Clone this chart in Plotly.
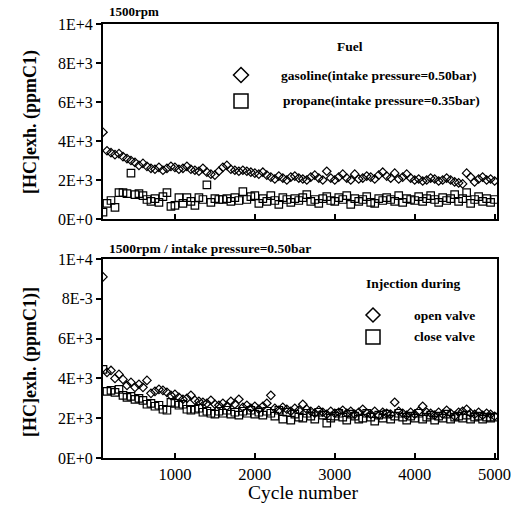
import plotly.graph_objects as go
from plotly.subplots import make_subplots

# ---------------- data ----------------
cycles = list(range(100, 5001, 50))

gasoline = [4450, 3500, 3400, 3300, 3350, 3200, 3100, 3000, 2900, 2750,
            2850, 2700, 2600, 2550, 2650, 2500, 2600, 2700, 2650, 2550,
            2600, 2700, 2550, 2500, 2450, 2600, 2400, 2300, 2250, 2450,
            2650, 2750, 2550, 2500, 2450, 2500, 2450, 2400, 2350, 2300,
            2400, 2250, 2150, 2050, 2200, 2100, 2000, 2150, 2200, 2100,
            2050, 2000, 2150, 2250, 2100, 2000, 2450, 2100, 2000, 2150,
            2300, 2100, 2000, 2300, 2050, 2100, 2200, 2150, 2050, 2250,
            2400, 2200, 2100, 2350, 2050, 2150, 2300, 2100, 2000, 2050,
            1950, 2000, 2100, 2050, 1950, 2000, 2100, 2000, 1900, 1850,
            1800, 2350, 2150, 1900, 2050, 2150, 2000, 2050, 1950]

propane = [350, 800, 950, 600, 1350, 1350, 1300, 2350, 1250, 1300,
           1200, 1000, 900, 1050, 850, 1150, 1350, 650, 700, 1100,
           800, 1100, 900, 700, 1100, 1000, 1750, 850, 1050, 1000,
           1000, 1050, 900, 1100, 950, 1400, 1000, 1150, 1200, 800,
           1050, 900, 1200, 950, 750, 1100, 1000, 850, 1050, 950,
           1100, 1250, 900, 1000, 800, 1050, 1150, 950, 900, 1100,
           1000, 1200, 750, 1050, 900, 1000, 1150, 850, 800, 1050,
           950, 1100, 1000, 900, 1200, 850, 1050, 1000, 950, 1150,
           900, 1050, 1200, 1000, 850, 1100, 950, 1050, 1250, 900,
           1050, 1350, 800, 1000, 1150, 900, 1050, 850, 1000]

open_valve = [9100, 4300, 4400, 4000, 4200, 3950, 3650, 3800, 3550, 3700,
              3550, 3900, 3250, 3350, 3450, 3400, 3300, 3150, 3200, 3050,
              2950, 3000, 3150, 2900, 2850, 2800, 2750, 2900, 2700, 2650,
              2750, 2600, 2850, 2700, 2950, 2550, 2650, 2500, 2600, 2450,
              2600, 2750, 3150, 2500, 2400, 2550, 2450, 2350, 2500, 2400,
              2700, 2450, 2350, 2250, 2400, 2300, 2200, 2350, 2250, 2300,
              2400, 2250, 2350, 2200, 2300, 2450, 2250, 2200, 2350, 2150,
              2300, 2250, 2200, 2800, 2350, 2250, 2150, 2300, 2200, 2350,
              2600, 2300, 2250, 2150, 2300, 2200, 2400, 2250, 2100, 2300,
              2350, 2450, 2250, 2200, 2300, 2150, 2250, 2200, 2100]

close_valve = [4450, 3350, 3400, 3300, 3450, 3150, 3050, 3100, 2950, 3000,
               2900, 2700, 2750, 2600, 2650, 2450, 2400, 2800, 2750, 2650,
               2700, 2450, 2400, 2450, 2500, 2300, 2350, 2250, 2200, 2350,
               2250, 2400, 2200, 2300, 2150, 2350, 2250, 2400, 2200, 2300,
               2150, 2350, 2250, 2100, 2400, 1950, 2300, 1900, 2200, 2050,
               2000, 2250, 2100, 1950, 2300, 2150, 1750, 2000, 2100, 2250,
               2050, 1900, 2200, 2100, 1950, 2000, 2250, 2050, 1850, 2150,
               2000, 2200, 1950, 2100, 2250, 2050, 1900, 2100, 2000, 2250,
               1950, 2050, 2150, 1900, 2100, 2000, 2200, 1950, 2050, 2100,
               2000, 2150, 1950, 2050, 2100, 1950, 2050, 2000, 2050]

y_tickvals = [0, 2000, 4000, 6000, 8000, 10000]
top_ticktext = ["0E+0", "2E+3", "4E+3", "6E+3", "8E+3", "1E+4"]
bottom_ticktext = ["0E+0", "2E+3", "4E+3", "6E+3", "8E-3", "1E+4"]
x_tickvals = [1000, 2000, 3000, 4000, 5000]

# ---------------- layout geometry ----------------
W, H = 525, 507
L, R, T, B = 103, 28, 24, 49
PW, PH = W - L - R, H - T - B


def px(x):
    return (x - L) / PW


def py(y):
    return (H - B - y) / PH


SERIF = "Liberation Serif"

fig = make_subplots(rows=2, cols=1, vertical_spacing=0.05)

diam = dict(symbol="diamond-open", size=6.5, color="black", line=dict(width=1.2, color="black"))
sq = dict(symbol="square-open", size=7.5, color="black", line=dict(width=1.2, color="black"))

fig.add_trace(go.Scatter(x=cycles, y=gasoline, mode="markers", marker=diam,
                         name="gasoline(intake pressure=0.50bar)", showlegend=False), row=1, col=1)
fig.add_trace(go.Scatter(x=cycles, y=propane, mode="markers", marker=sq,
                         name="propane(intake pressure=0.35bar)", showlegend=False), row=1, col=1)
fig.add_trace(go.Scatter(x=cycles, y=open_valve, mode="markers", marker=diam,
                         name="open valve", showlegend=False), row=2, col=1)
fig.add_trace(go.Scatter(x=cycles, y=close_valve, mode="markers", marker=sq,
                         name="close valve", showlegend=False), row=2, col=1)

axis_common = dict(showgrid=False, zeroline=False, showline=True, mirror=True,
                   linecolor="black", linewidth=2)

xr = [100, 5030]
fig.update_xaxes(**axis_common, range=xr, tickvals=x_tickvals, ticks="inside",
                 ticklen=5, tickcolor="black", tickwidth=1.5,
                 tickfont=dict(family=SERIF, size=16.5, color="black"))
fig.update_xaxes(showticklabels=False, row=1, col=1)
fig.update_yaxes(**axis_common, range=[0, 10000], tickvals=y_tickvals, ticks="outside",
                 ticklen=5, tickcolor="black", tickwidth=1.5,
                 tickfont=dict(family=SERIF, size=16, color="black"))
fig.update_yaxes(ticktext=top_ticktext, row=1, col=1)
fig.update_yaxes(ticktext=bottom_ticktext, row=2, col=1)

fig.update_layout(
    xaxis=dict(domain=[0, 1]), xaxis2=dict(domain=[0, 1]),
    yaxis=dict(domain=[py(219), 1]), yaxis2=dict(domain=[0, py(259)]),
)

annotations = []


def ann(text, x, y, size, bold=True, xanchor="left", angle=0):
    t = f"<b>{text}</b>" if bold else text
    annotations.append(dict(text=t, x=px(x), y=py(y), xref="paper", yref="paper",
                            xanchor=xanchor, yanchor="middle", showarrow=False,
                            textangle=angle,
                            font=dict(family=SERIF, size=size, color="black")))


ann("1500rpm", 107, 12, 13)
ann("1500rpm / intake pressure=0.50bar", 107, 249, 13.5)
ann("[HC]exh. (ppmC1)", 30, 122, 18, xanchor="center", angle=-90)
ann("[HC]exh. (ppmC1)]", 30, 362, 18, xanchor="center", angle=-90)
ann("Cycle number", 303, 493, 19.5, bold=False, xanchor="center")

# legends
ann("Fuel", 350, 46, 13.5, xanchor="center")
ann("gasoline(intake pressure=0.50bar)", 279, 75, 13.5)
ann("propane(intake pressure=0.35bar)", 281, 101, 13.5)
ann("Injection during", 413, 283, 13.5, xanchor="center")
ann("open valve", 412, 315, 13.5)
ann("close valve", 412, 337, 13.5)

shapes = []


def diamond(cx, cy, h):
    path = (f"M {px(cx)},{py(cy - h)} L {px(cx + h)},{py(cy)} "
            f"L {px(cx)},{py(cy + h)} L {px(cx - h)},{py(cy)} Z")
    shapes.append(dict(type="path", path=path, xref="paper", yref="paper",
                       line=dict(color="black", width=1.5)))


def square(cx, cy, h):
    shapes.append(dict(type="rect", x0=px(cx - h), x1=px(cx + h), y0=py(cy + h), y1=py(cy - h),
                       xref="paper", yref="paper", line=dict(color="black", width=1.5)))


diamond(241, 75, 7.5)
square(241, 101, 7)
diamond(373, 315, 7)
square(373, 337, 7)

fig.update_layout(
    width=W, height=H,
    margin=dict(l=L, r=R, t=T, b=B),
    paper_bgcolor="white", plot_bgcolor="white",
    font=dict(family=SERIF, color="black"),
    annotations=annotations, shapes=shapes,
    showlegend=False,
)

fig.write_html("out.html")
